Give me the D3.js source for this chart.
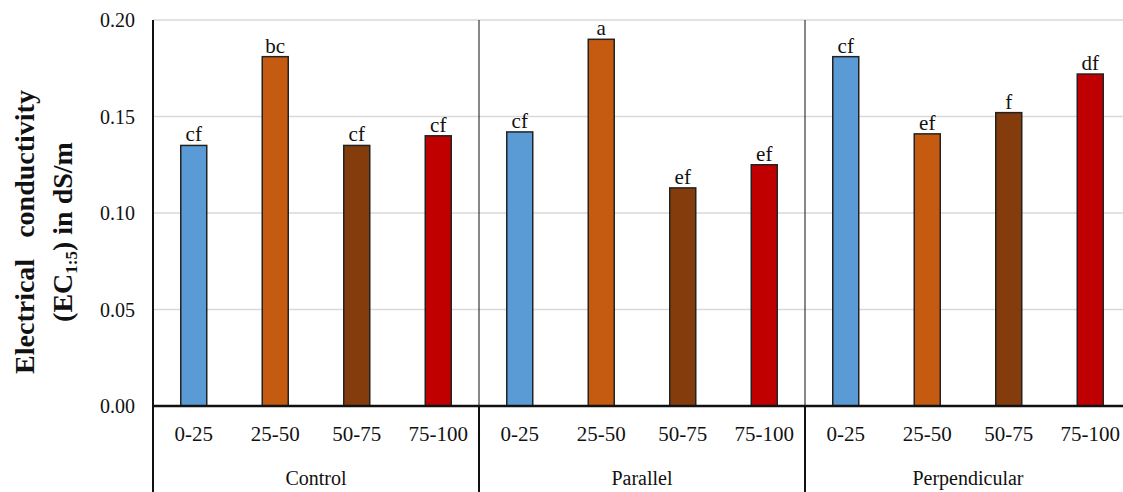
<!DOCTYPE html>
<html>
<head>
<script src="https://d3js.org/d3.v7.min.js"></script>
<style>
  body { margin: 0; background: #fff; }
  text { font-family: "Liberation Serif", "Times New Roman", serif; fill: #111; }
</style>
</head>
<body>
<script>
// data
var groups = ["Control", "Parallel", "Perpendicular"];
var depths = ["0-25", "25-50", "50-75", "75-100"];
var control = [0.135, 0.181, 0.135, 0.140];
var parallel = [0.142, 0.190, 0.113, 0.125];
var perpendicular = [0.181, 0.141, 0.152, 0.172];
var letters = [["cf", "bc", "cf", "cf"], ["cf", "a", "ef", "ef"], ["cf", "ef", "f", "df"]];
var yTicks = [0, 0.05, 0.10, 0.15, 0.20];
var colors = ["#5B9BD5", "#C55A11", "#843C0C", "#C00000"];

var values = [control, parallel, perpendicular];
var data = [];
groups.forEach(function(g, i) {
  depths.forEach(function(d, j) {
    data.push({group: g, depth: d, key: g + "|" + d, value: values[i][j], letter: letters[i][j], j: j});
  });
});

var W = 1123, H = 492;
var mLeft = 153, mRight = 1131, mTop = 20, base = 406;

var svg = d3.select("body").append("svg").attr("width", W).attr("height", H);

var x = d3.scaleBand().domain(data.map(function(d) { return d.key; })).range([mLeft, mRight]);
var y = d3.scaleLinear().domain([0, 0.20]).range([base, mTop]);

// gridlines
svg.append("g").selectAll("line").data(yTicks.slice(1)).join("line")
  .attr("x1", mLeft).attr("x2", mRight)
  .attr("y1", function(d) { return y(d); }).attr("y2", function(d) { return y(d); })
  .attr("stroke", "#d9d9d9").attr("stroke-width", 1.5);

// y tick labels
svg.append("g").selectAll("text").data(yTicks).join("text")
  .attr("x", 135).attr("y", function(d) { return y(d) + 7; })
  .attr("text-anchor", "end").attr("font-size", 20)
  .text(function(d) { return d3.format(".2f")(d); });

// bars
var bw = 26;
svg.append("g").selectAll("rect").data(data).join("rect")
  .attr("x", function(d) { return x(d.key) + x.bandwidth() / 2 - bw / 2; })
  .attr("y", function(d) { return y(d.value); })
  .attr("width", bw)
  .attr("height", function(d) { return base - y(d.value); })
  .attr("fill", function(d) { return colors[d.j]; })
  .attr("stroke", "#222").attr("stroke-width", 1.5);

// letters
svg.append("g").selectAll("text").data(data).join("text")
  .attr("x", function(d) { return x(d.key) + x.bandwidth() / 2; })
  .attr("y", function(d) { return y(d.value) - 4; })
  .attr("text-anchor", "middle").attr("font-size", 21)
  .text(function(d) { return d.letter; });

// depth labels
svg.append("g").selectAll("text").data(data).join("text")
  .attr("x", function(d) { return x(d.key) + x.bandwidth() / 2; })
  .attr("y", 441)
  .attr("text-anchor", "middle").attr("font-size", 21)
  .text(function(d) { return d.depth; });

// group labels and separators
var gw = x.bandwidth() * depths.length;
svg.append("g").selectAll("text").data(groups).join("text")
  .attr("x", function(d, i) { return mLeft + gw * i + gw / 2; })
  .attr("y", 485)
  .attr("text-anchor", "middle").attr("font-size", 20)
  .text(function(d) { return d; });

svg.append("g").selectAll("line").data([1, 2]).join("line")
  .attr("x1", function(i) { return mLeft + gw * i; }).attr("x2", function(i) { return mLeft + gw * i; })
  .attr("y1", mTop).attr("y2", base)
  .attr("stroke", "#111").attr("stroke-width", 1);

svg.append("g").selectAll("line").data([0, 1, 2]).join("line")
  .attr("x1", function(i) { return mLeft + gw * i; }).attr("x2", function(i) { return mLeft + gw * i; })
  .attr("y1", base).attr("y2", H)
  .attr("stroke", "#111").attr("stroke-width", 2);

// axes lines
svg.append("line").attr("x1", mLeft).attr("x2", mLeft).attr("y1", mTop).attr("y2", base)
  .attr("stroke", "#111").attr("stroke-width", 2);
svg.append("line").attr("x1", mLeft).attr("x2", mRight).attr("y1", base).attr("y2", base)
  .attr("stroke", "#111").attr("stroke-width", 2.5);

// y axis title
var title = svg.append("text")
  .attr("transform", "translate(0,232) rotate(-90)")
  .attr("text-anchor", "middle").attr("font-size", 28).attr("font-weight", "bold");
title.append("tspan").attr("x", 0).attr("y", 34).attr("word-spacing", 14).text("Electrical conductivity");
var l2 = title.append("tspan").attr("x", 0).attr("y", 72);
l2.text("(EC");
title.append("tspan").attr("font-size", 17).attr("dy", 5).text("1:5");
title.append("tspan").attr("dy", -5).text(") in dS/m");
</script>
</body>
</html>
